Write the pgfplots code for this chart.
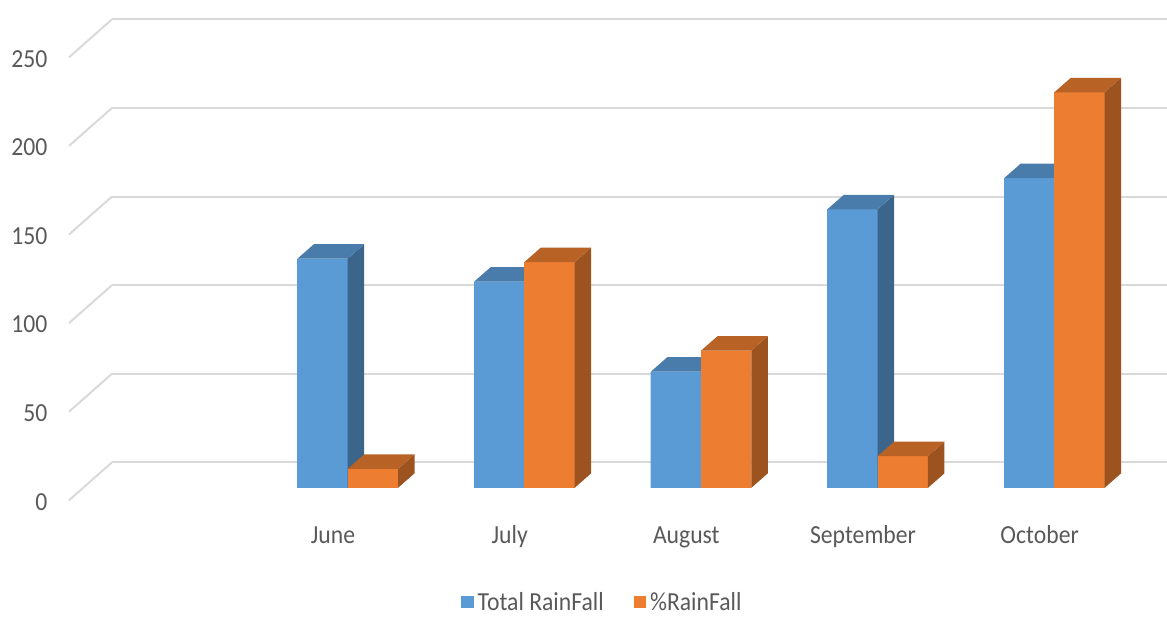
\documentclass[border=0pt]{standalone}
\usepackage{pgfplots}
\pgfplotsset{compat=1.18}
\usepackage{pgfplotstable}
\usepackage{fontspec}
\setmainfont{Carlito}[FakeStretch=0.91]
\definecolor{bfront}{HTML}{5B9BD5}
\definecolor{bside}{HTML}{3B658B}
\definecolor{btop}{HTML}{497CAA}
\definecolor{ofront}{HTML}{ED7D31}
\definecolor{oside}{HTML}{9C5320}
\definecolor{otop}{HTML}{B96226}
\definecolor{gridcol}{HTML}{D9D9D9}
\definecolor{txt}{HTML}{595959}

\pgfplotstableread{
idx total pct
1 129.3 10.7
2 116.3 127.4
3 65.5 77.4
4 157.2 17.9
5 174.7 223.2
}\raindata

% geometry (pt): 1 px of the reference = 0.5pt
\def\prYu{0.886}   % pt per data unit
\def\prHw{12.575}  % half bar width
\def\prDx{8.25}    % depth offset x
\def\prDy{7.25}    % depth offset y

% #1 centre offset, #2 front, #3 side, #4 top colour
\newcommand\prismfaces[4]{%
  \pgfmathsetmacro\prH{\val*\prYu}%
  \pgfmathsetmacro\prXl{#1-\prHw}%
  \pgfmathsetmacro\prXr{#1+\prHw}%
  \pgfmathsetmacro\prXrd{\prXr+\prDx}%
  \pgfmathsetmacro\prXld{\prXl+\prDx}%
  \pgfmathsetmacro\prYb{-\prH}%
  \pgfmathsetmacro\prYbd{-\prH+\prDy}%
  % front face
  \pgfsetfillcolor{#2}%
  \pgfpathrectanglecorners{\pgfpoint{\prXl pt}{\prYb pt}}{\pgfpoint{\prXr pt}{0pt}}%
  \pgfusepathqfill
  % side face
  \pgfsetfillcolor{#3}%
  \pgfpathmoveto{\pgfpoint{\prXr pt}{0pt}}%
  \pgfpathlineto{\pgfpoint{\prXr pt}{\prYb pt}}%
  \pgfpathlineto{\pgfpoint{\prXrd pt}{\prYbd pt}}%
  \pgfpathlineto{\pgfpoint{\prXrd pt}{\prDy pt}}%
  \pgfpathclose
  \pgfusepathqfill
  % top face
  \pgfsetfillcolor{#4}%
  \pgfpathmoveto{\pgfpoint{\prXl pt}{0pt}}%
  \pgfpathlineto{\pgfpoint{\prXr pt}{0pt}}%
  \pgfpathlineto{\pgfpoint{\prXrd pt}{\prDy pt}}%
  \pgfpathlineto{\pgfpoint{\prXld pt}{\prDy pt}}%
  \pgfpathclose
  \pgfusepathqfill
}
\pgfdeclareplotmark{prismB}{\prismfaces{-\prHw}{bfront}{bside}{btop}}
\pgfdeclareplotmark{prismO}{\prismfaces{\prHw}{ofront}{oside}{otop}}

\newcommand\chartfont{\fontsize{13}{15.5}\selectfont}

\begin{document}
\begin{tikzpicture}
\useasboundingbox (0,0) rectangle (583.5pt,309pt);
% back wall with grid lines and front tick labels
\begin{axis}[
  at={(56pt,77.85pt)}, anchor=south west,
  scale only axis, width=527.5pt, height=221.5pt,
  xmin=0, xmax=1, ymin=0, ymax=250,
  axis line style={draw=none},
  xtick=\empty, ytick={0,50,100,150,200,250},
  yticklabels={0,50,100,150,200,250},
  ymajorgrids, grid style={gridcol, line width=1pt},
  major tick length=0pt,
  /pgf/number format/assume math mode=true,
  yticklabel style={anchor=east, inner sep=0pt, xshift=-32.15pt, yshift=-19.75pt, font=\chartfont, text=txt},
  clip=false,
]
\pgfplotsinvokeforeach{0,50,100,150,200,250}{
  \draw[gridcol, line width=1pt] (axis cs:0,#1) -- ++(-21.5pt,-19pt);
}
\end{axis}
% bars
\begin{axis}[
  at={(129.7pt,65.1pt)}, anchor=south west,
  scale only axis, width=441.625pt, height=221.5pt,
  xmin=0.5, xmax=5.5, ymin=0, ymax=250,
  axis line style={draw=none}, major tick length=0pt,
  xtick={1,2,3,4,5}, xticklabels={June,July,August,September,October},
  ytick=\empty,
  xticklabel style={anchor=base, inner sep=0pt, xshift=-7.35pt, yshift=-27.75pt, font=\chartfont, text=txt},
  clip=false,
  legend style={at={(0.3895,-0.261)}, anchor=center, draw=none, fill=none,
    font=\chartfont, text=txt, legend columns=2,
    /tikz/every even column/.append style={column sep=13pt}},
]
\addplot[ybar, bar width=25.15pt, bar shift=-12.575pt, fill=bfront, draw=none,
  legend image code/.code={\fill[bfront] (0pt,-2.5pt) rectangle (6.15pt,3.65pt);}]
  table[x=idx,y=total]{\raindata};
\addlegendentry{Total RainFall}
\addplot[ybar, bar width=25.15pt, bar shift=12.575pt, fill=ofront, draw=none,
  legend image code/.code={\fill[ofront] (0pt,-2.5pt) rectangle (6.15pt,3.65pt);}]
  table[x=idx,y=pct]{\raindata};
\addlegendentry{\%RainFall}
% 3-D faces, blue first then orange so the orange front hides the blue side
\addplot[scatter, only marks, mark=prismB, forget plot,
  visualization depends on={\thisrow{total} \as \val}]
  table[x=idx,y=total]{\raindata};
\addplot[scatter, only marks, mark=prismO, forget plot,
  visualization depends on={\thisrow{pct} \as \val}]
  table[x=idx,y=pct]{\raindata};
\end{axis}
\end{tikzpicture}
\end{document}
